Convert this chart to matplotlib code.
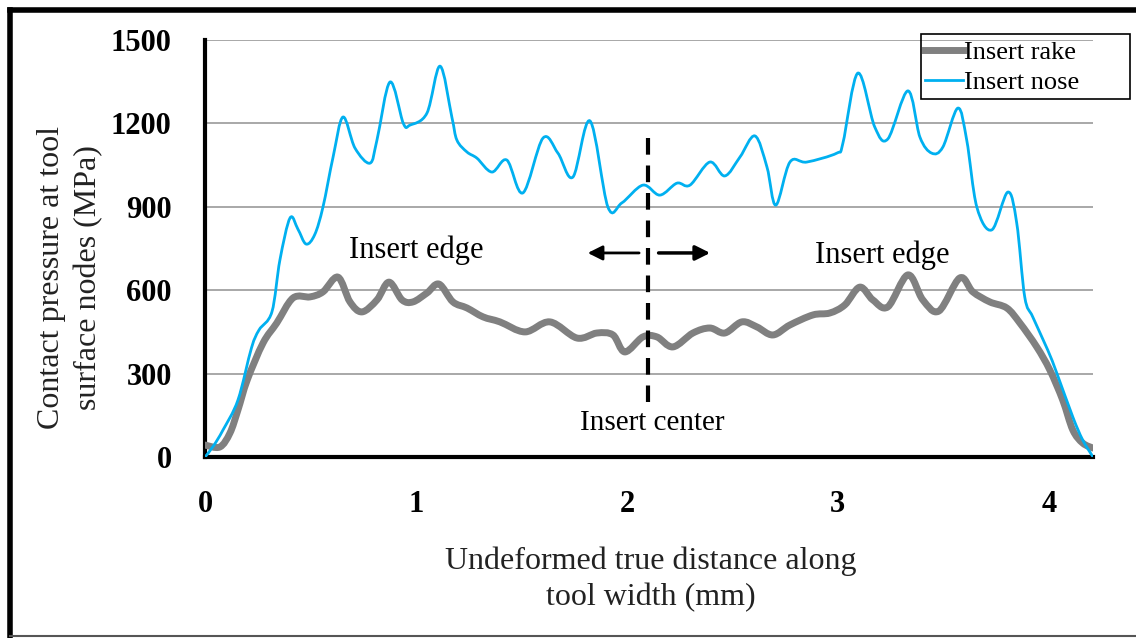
import numpy as np
import matplotlib.pyplot as plt
from matplotlib.lines import Line2D
from matplotlib.path import Path
from matplotlib.patches import PathPatch, Rectangle

plt.rcParams['font.family'] = ['Liberation Serif', 'DejaVu Serif']

# distance along tool width (mm) and contact pressure (MPa)
nose_x = [0.00, 0.04, 0.085, 0.156, 0.22, 0.256, 0.317, 0.355, 0.403, 0.44, 0.479, 0.52,
          0.559, 0.607, 0.654, 0.711, 0.782, 0.815, 0.877, 0.94, 0.972, 1.052, 1.114, 1.17,
          1.194, 1.242, 1.289, 1.36, 1.431, 1.507, 1.602, 1.673, 1.744, 1.825, 1.91, 1.976,
          2.076, 2.156, 2.237, 2.299, 2.393, 2.464, 2.536, 2.607, 2.664, 2.706, 2.773, 2.853,
          2.995, 3.024, 3.095, 3.175, 3.237, 3.332, 3.389, 3.445, 3.498, 3.569, 3.611, 3.659,
          3.73, 3.806, 3.848, 3.886, 3.924, 3.995, 4.038, 4.114, 4.161, 4.21]
nose_p = [0, 40, 97, 205, 392, 457, 522, 709, 860, 820, 766, 800,
          899, 1079, 1223, 1111, 1057, 1140, 1349, 1200, 1194, 1237, 1406, 1223,
          1140, 1097, 1075, 1025, 1068, 950, 1147, 1093, 1007, 1209, 899, 914,
          978, 942, 985, 978, 1061, 1011, 1079, 1155, 1043, 906, 1061, 1061,
          1093, 1129, 1381, 1187, 1144, 1317, 1151, 1093, 1115, 1255, 1140, 899,
          817, 953, 842, 576, 504, 385, 302, 144, 61, 0]

rake_x = [0.0, 0.07, 0.118, 0.156, 0.2, 0.275, 0.34, 0.417, 0.498, 0.559, 0.63, 0.687,
          0.744, 0.815, 0.872, 0.934, 0.986, 1.052, 1.109, 1.175, 1.242, 1.318, 1.398, 1.517,
          1.635, 1.763, 1.858, 1.934, 1.99, 2.076, 2.142, 2.218, 2.313, 2.393, 2.464, 2.545,
          2.616, 2.692, 2.773, 2.882, 2.962, 3.033, 3.104, 3.166, 3.237, 3.332, 3.403, 3.479,
          3.578, 3.64, 3.72, 3.801, 3.863, 3.943, 4.005, 4.066, 4.114, 4.161, 4.21]
rake_p = [43, 36, 86, 169, 277, 410, 482, 572, 576, 594, 647, 558,
          522, 565, 629, 565, 558, 590, 622, 558, 536, 504, 486, 450,
          486, 428, 446, 439, 378, 432, 432, 396, 446, 464, 446, 486,
          468, 439, 475, 511, 518, 547, 611, 565, 540, 655, 565, 525,
          644, 594, 558, 536, 482, 396, 313, 205, 97, 50, 32]

yticks = [0, 300, 600, 900, 1200, 1500]
xticks = [0, 1, 2, 3, 4]

rake_color = '#808080'
nose_color = '#00B0F0'


def smooth_path(xs, ys):
    # smoothed line through the points (cubic bezier, catmull-rom tangents)
    pts = np.column_stack([xs, ys]).astype(float)
    ext = np.vstack([pts[0], pts, pts[-1]])
    verts = [pts[0]]
    codes = [Path.MOVETO]
    for i in range(len(pts) - 1):
        p0, p1, p2, p3 = ext[i], ext[i + 1], ext[i + 2], ext[i + 3]
        verts += [p1 + (p2 - p0) / 6, p2 - (p3 - p1) / 6, p2]
        codes += [Path.CURVE4] * 3
    return Path(verts, codes)


fig = plt.figure(figsize=(11.36, 6.38), dpi=100)
ax = fig.add_axes([0.1805, 0.2837, 0.7817, 0.6536])

ax.add_patch(PathPatch(smooth_path(rake_x, rake_p), fill=False, edgecolor=rake_color, lw=5,
                       joinstyle='round', capstyle='round', zorder=3))
ax.add_patch(PathPatch(smooth_path(nose_x, nose_p), fill=False, edgecolor=nose_color, lw=2,
                       joinstyle='round', zorder=4))

ax.set_xlim(0, 4.21)
ax.set_ylim(0, 1500)
ax.set_xticks(xticks)
ax.set_yticks(yticks)
ax.tick_params(length=0, labelsize=22)
ax.tick_params(axis='x', pad=24)
ax.tick_params(axis='y', pad=24)
for lab in ax.get_xticklabels() + ax.get_yticklabels():
    lab.set_fontweight('bold')
ax.yaxis.grid(True, color='#9a9a9a', lw=1.2)
ax.set_axisbelow(True)
for s in ['top', 'right']:
    ax.spines[s].set_visible(False)
ax.spines['left'].set_linewidth(3)
ax.spines['bottom'].set_linewidth(3)

ax.text(-0.152, 0.43, 'Contact pressure at tool\nsurface nodes (MPa)', transform=ax.transAxes,
        rotation=90, ha='center', va='center', fontsize=23, linespacing=1.35, color='#222222')
ax.text(0.502, -0.2926, 'Undeformed true distance along\ntool width (mm)', transform=ax.transAxes,
        ha='center', va='center', fontsize=23, linespacing=1.3, color='#222222')

# annotations
ax.text(1.0, 745, 'Insert edge', ha='center', va='center', fontsize=22)
ax.text(3.21, 727, 'Insert edge', ha='center', va='center', fontsize=22)
ax.text(2.12, 122, 'Insert center', ha='center', va='center', fontsize=21)
ax.plot([2.1, 2.1], [1147, 198], color='black', lw=3, ls=(0, (4, 2.6)), zorder=5)
ax.annotate('', xy=(1.801, 734), xytext=(2.071, 734),
            arrowprops=dict(arrowstyle='-|>', color='black', lw=2, mutation_scale=22))
ax.annotate('', xy=(2.408, 734), xytext=(2.137, 734),
            arrowprops=dict(arrowstyle='-|>', color='black', lw=2.5, mutation_scale=22))

handles = [Line2D([], [], color=rake_color, lw=5), Line2D([], [], color=nose_color, lw=2)]
ax.legend(handles, ['Insert rake', 'Insert nose'], loc='upper left',
          bbox_to_anchor=(0.806, 1.008), fontsize=19, frameon=False,
          handlelength=1.45, handletextpad=0.05, borderpad=0.15, labelspacing=0.25,
          borderaxespad=0)
ax.add_patch(Rectangle((0.806, 0.8585), 0.2357, 0.1559, transform=ax.transAxes, fill=False,
                       edgecolor='black', lw=1.2, clip_on=False, zorder=6))

# outer frame
fig.add_artist(Line2D([0.0085, 0.0085], [0.0, 0.985], transform=fig.transFigure, color='black', lw=4))
fig.add_artist(Line2D([0.0085, 1.0], [0.985, 0.985], transform=fig.transFigure, color='black', lw=4))
fig.add_artist(Line2D([0.0085, 1.0], [0.003, 0.003], transform=fig.transFigure, color='#555555', lw=1.5))

fig.savefig('out.png', dpi=100)
